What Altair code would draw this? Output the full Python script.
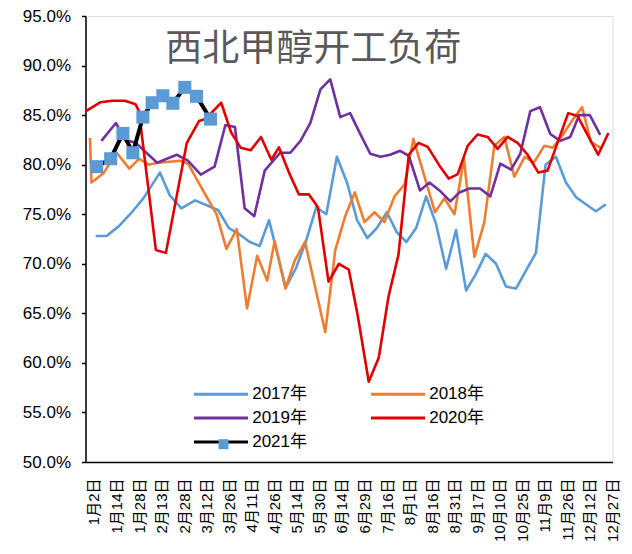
import json
import altair as alt
import pandas as pd

# ---------------- data ----------------
series_names = ["2017年", "2018年", "2019年", "2020年", "2021年"]
series_colors = ["#5B9BD5", "#ED7D31", "#7030A0", "#E00000", "#000000"]
marker_color = "#5B9BD5"

x_labels = ["1月2日", "1月14日", "1月28日", "2月13日", "2月28日", "3月12日", "3月26日",
            "4月11日", "4月26日", "5月14日", "5月30日", "6月14日", "6月29日", "7月16日",
            "8月1日", "8月16日", "8月31日", "9月17日", "10月10日", "10月25日", "11月9日",
            "11月26日", "12月12日", "12月27日"]

# x position in weeks counted from 1月2日 (axis labels every 2 weeks); values in %
wk_2017 = [0.15, 1.12, 2.21, 3.29, 4.38, 5.85, 6.73, 7.75, 8.97, 10.01, 11.03, 11.97, 12.75,
           13.82, 14.70, 15.53, 17.01, 17.94, 18.84, 19.72, 20.61, 21.55, 22.48, 23.34, 24.25,
           25.09, 25.98, 26.86, 27.72, 28.58, 29.47, 30.35, 31.24, 32.12, 33.01, 33.90, 34.75,
           35.67, 36.55, 37.44, 38.32, 39.21, 40.06, 40.98, 41.87, 42.78, 43.64, 44.52, 45.41]
val_2017 = [72.8, 72.8, 73.8, 75.1, 76.6, 79.2, 76.9, 75.6, 76.4, 75.9, 75.4, 73.6, 73.1,
            72.2, 71.8, 74.4, 67.6, 69.6, 72.4, 75.7, 75.0, 80.8, 78.1, 74.4, 72.6,
            73.6, 75.2, 73.2, 72.2, 73.6, 76.8, 74.0, 69.5, 73.4, 67.3, 69.0, 71.0,
            70.0, 67.7, 67.5, 69.3, 71.1, 80.0, 80.8, 78.2, 76.7, 76.0, 75.3, 76.0]

wk_2018 = [-0.35, -0.22, 0.82, 2.01, 3.14, 4.01, 4.83, 5.71, 6.69, 7.62, 8.35, 9.57, 10.87,
           11.75, 12.67, 13.58, 14.48, 15.37, 16.03, 16.99, 17.80, 18.73, 20.52, 21.41, 22.32,
           23.14, 24.00, 24.89, 25.77, 26.66, 27.55, 28.34, 30.25, 31.09, 31.98, 32.82, 33.75,
           34.63, 35.52, 36.40, 37.29, 38.22, 39.02, 39.95, 40.70, 41.58, 42.45, 43.30, 44.08, 44.95]
val_2018 = [82.7, 78.2, 79.1, 81.2, 79.6, 80.6, 80.0, 80.2, 80.3, 80.4, 80.1, 77.6, 75.0,
            71.5, 73.5, 65.5, 70.8, 68.3, 72.3, 67.5, 70.3, 72.2, 63.1, 71.4, 74.9,
            77.2, 74.2, 75.2, 74.2, 76.8, 78.0, 82.6, 75.2, 76.6, 75.0, 80.6, 70.7,
            74.2, 81.9, 82.8, 78.8, 80.8, 80.2, 81.9, 81.7, 83.0, 84.5, 85.8, 82.3, 81.7]

wk_2019 = [0.66, 1.95, 2.75, 3.72, 4.65, 5.61, 6.47, 7.35, 8.33, 9.48, 10.70, 11.66, 12.51,
           13.37, 14.22, 15.15, 16.52, 17.42, 18.32, 19.19, 20.09, 20.96, 21.85, 22.72, 23.62,
           24.51, 25.42, 26.28, 27.16, 27.93, 28.92, 29.76, 30.65, 31.62, 32.42, 33.30, 34.25,
           35.16, 36.05, 37.00, 37.82, 38.71, 39.57, 40.48, 41.36, 42.25, 43.05, 43.99, 44.91]
val_2019 = [82.4, 84.2, 82.5, 82.2, 81.2, 80.2, 80.6, 81.0, 80.4, 79.0, 79.8, 84.0, 83.8,
            75.6, 74.8, 79.4, 81.2, 81.2, 82.4, 84.2, 87.6, 88.6, 84.8, 85.2, 83.1,
            81.1, 80.8, 81.0, 81.4, 80.9, 77.4, 78.2, 77.4, 76.3, 77.2, 77.6, 77.6,
            76.8, 80.1, 79.5, 81.1, 85.4, 85.8, 83.1, 82.4, 82.8, 85.0, 85.0, 83.0]

wk_2020 = [-0.71, 0.59, 1.62, 2.75, 3.69, 3.99, 5.49, 6.38, 8.24, 9.32, 9.88, 11.29, 12.15,
           13.02, 13.91, 14.82, 15.74, 16.41, 17.30, 18.18, 19.07, 19.87, 20.81, 21.73, 22.61,
           23.41, 24.38, 25.27, 26.13, 27.01, 27.93, 28.79, 29.61, 30.65, 31.47, 32.27, 33.15,
           34.04, 34.92, 35.81, 36.70, 37.58, 38.47, 39.42, 40.24, 42.07, 42.90, 44.73, 45.64]
val_2020 = [85.4, 86.3, 86.45, 86.45, 86.1, 85.4, 71.4, 71.1, 82.2, 84.4, 84.6, 86.25, 83.3,
            81.7, 81.45, 82.8, 80.5, 81.75, 79.2, 77.0, 77.0, 75.7, 68.2, 70.0, 69.4,
            64.7, 58.1, 60.55, 66.7, 70.9, 81.0, 82.2, 81.8, 79.9, 78.6, 79.05, 81.9,
            83.05, 82.8, 81.6, 82.8, 82.2, 81.0, 79.2, 79.4, 85.2, 84.9, 81.0, 83.2]

wk_2021 = [0.24, 1.48, 2.57, 3.45, 4.34, 5.16, 6.11, 7.00, 8.06, 9.10, 10.34]
val_2021 = [79.8, 80.6, 83.15, 81.2, 84.8, 86.25, 86.95, 86.2, 87.8, 86.9, 84.6]

title_text = "西北甲醇开工负荷"

# ---------------- tables ----------------
rows = []
for name, wks, vals in zip(series_names[:4],
                           [wk_2017, wk_2018, wk_2019, wk_2020],
                           [val_2017, val_2018, val_2019, val_2020]):
    for w, v in zip(wks, vals):
        rows.append({"series": name, "wk": w, "v": v})
df_old = pd.DataFrame(rows)
df_new = pd.DataFrame({"series": series_names[4], "mk": series_names[4],
                       "wk": wk_2021, "v": val_2021})

LATIN = "'Liberation Sans', 'Noto Sans CJK SC', sans-serif"
CJK = "'Noto Sans CJK SC', sans-serif"

label_expr = json.dumps(x_labels, ensure_ascii=False) + "[round(datum.value / 2)]"

x_enc = alt.X("wk:Q",
              scale=alt.Scale(domain=[-0.75, 46.0], nice=False, zero=False),
              axis=alt.Axis(values=list(range(0, 47, 2)), labelExpr=label_expr,
                            labelAngle=270, ticks=False, tickSize=0, grid=False,
                            labelPadding=16, labelFontSize=15, labelFont=LATIN,
                            labelColor="black", domainColor="black", domainWidth=1.5,
                            labelOverlap=False, labelFlush=False, labelBound=False,
                            title=None))
y_enc = alt.Y("v:Q",
              scale=alt.Scale(domain=[50, 95], nice=False, zero=False),
              axis=alt.Axis(values=list(range(50, 96, 5)),
                            labelExpr="format(datum.value, '.1f') + '%'",
                            grid=False, tickSize=4, tickColor="black", tickWidth=1.5,
                            domainColor="black", domainWidth=1.5, labelFontSize=17,
                            labelFont=LATIN, labelColor="black", labelPadding=11,
                            title=None))

color_scale = alt.Scale(domain=series_names, range=series_colors)
legend_a = alt.Legend(title=None, orient="none", legendX=108.5, legendY=367.5,
                      direction="horizontal", columns=2, columnPadding=57, rowPadding=5,
                      padding=0,
                      symbolType="M-3,0H3", symbolSize=324, symbolStrokeWidth=3,
                      symbolOffset=16.5, labelOffset=20.7, labelFontSize=17,
                      labelFont=LATIN, labelColor="black")

lines_old = alt.Chart(df_old).mark_line(strokeWidth=2.6, strokeJoin="round").encode(
    x=x_enc, y=y_enc,
    color=alt.Color("series:N", scale=color_scale, legend=legend_a))

line_new = alt.Chart(df_new).mark_line(strokeWidth=4, strokeJoin="round").encode(
    x=x_enc, y=y_enc,
    color=alt.Color("series:N", scale=color_scale, legend=legend_a))

# marker-only legend placed on the middle of the 2021 line symbol (no label text)
legend_b = alt.Legend(title=None, orient="none", legendX=129.5, legendY=419.7, padding=0,
                      symbolType="square", symbolSize=100, symbolStrokeWidth=0,
                      symbolFillColor=marker_color, labelExpr="''",
                      labelFontSize=17)

points_new = alt.Chart(df_new).mark_point(filled=True, size=170, opacity=1,
                                          fill=marker_color, strokeWidth=0).encode(
    x=x_enc, y=y_enc,
    shape=alt.Shape("mk:N", scale=alt.Scale(domain=[series_names[4]], range=["square"]),
                    legend=legend_b))

chart = alt.layer(lines_old, line_new, points_new).properties(
    width=527, height=446,
    padding={"left": 77.5, "top": 8, "right": 11.5, "bottom": 84},
    autosize=alt.AutoSizeParams(type="none"),
    title=alt.TitleParams(text=title_text, font=CJK, fontSize=37, fontWeight="normal",
                          color="#595959", anchor="middle", frame="group",
                          dx=-35.7, dy=79.5, baseline="middle", offset=0),
).configure_view(stroke=None).configure(background="white")

chart.save("out.html", embed_options={"renderer": "svg", "actions": False})
